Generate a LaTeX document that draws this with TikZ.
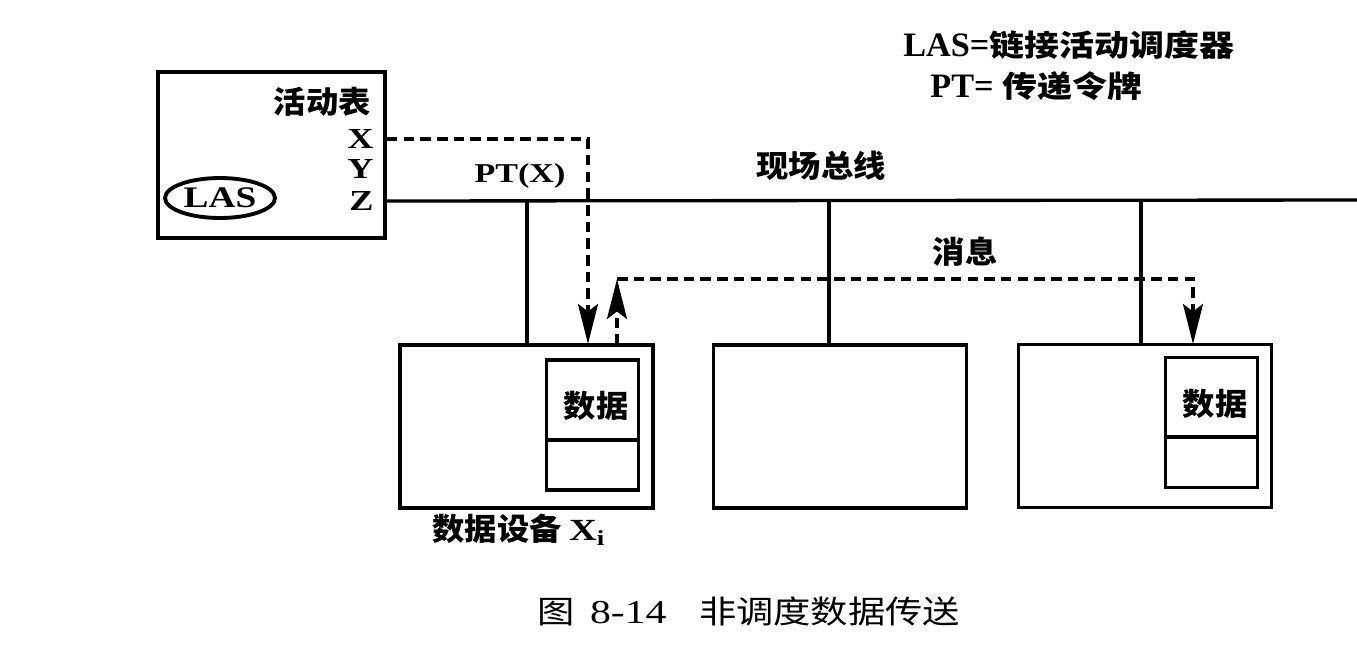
\documentclass[tikz,border=0pt]{standalone}
\usepackage{fontspec}
\setmainfont{Liberation Serif}
\newfontfamily\lat{Liberation Serif}[FakeStretch=1.25]
\newfontfamily\cjk{Noto Sans CJK SC}[FakeStretch=1.05]
\newfontfamily\cjkwide{Noto Sans CJK SC}[FakeStretch=1.17]
\newfontfamily\cjkcap{Noto Sans CJK SC}[FakeStretch=1.18]
\usetikzlibrary{arrows.meta,calc,positioning,shapes.geometric}

\begin{document}
\begin{tikzpicture}[x=0.02cm,y=-0.02cm,>={Stealth[length=8mm,width=4mm,inset=1.5mm]},
    zh/.style={font=\fontsize{17.5}{20}\selectfont\cjk\bfseries,inner sep=0pt},
    en/.style={font=\fontsize{16.5}{18}\selectfont\lat\bfseries,inner sep=0pt},
    unit/.style={draw,line width=2.2pt,minimum width=5.06cm,minimum height=3.26cm,inner sep=0pt},
    buffer/.style={draw,line width=2.2pt,minimum width=1.84cm,minimum height=2.6cm,inner sep=0pt},
    token/.style={line width=1.9pt,dash pattern=on 6pt off 3.5pt},
    wire/.style={line width=1.9pt}]
    \useasboundingbox (0,0) rectangle (1357,653);
    % scheduler with its live list
    \node[draw,line width=2.2pt,minimum width=4.54cm,minimum height=3.32cm,inner sep=0pt] (lasbox) at (271.5,155) {};
    \node[zh,anchor=east] (livelist) at (371,102) {活动表};
    \node[en,anchor=east] (xrow) at (374,139) {X};
    \node[en,anchor=east] (yrow) at (374,169) {Y};
    \node[en,anchor=east] (zrow) at (374,201) {Z};
    \node[draw,ellipse,line width=2.2pt,minimum width=2.2cm,minimum height=0.8cm,inner sep=0pt,
      font=\fontsize{17}{20}\selectfont\lat\bfseries] (las) at (220,198) {LAS};
    % legend
    \node[anchor=west,inner sep=0pt,font=\fontsize{19.5}{22}\selectfont\bfseries] (legendlas) at (903,45) {LAS={\fontsize{17}{20}\selectfont\cjkwide 链接活动调度器}};
    \node[anchor=west,inner sep=0pt,font=\fontsize{19.5}{22}\selectfont\bfseries] (legendpt) at (930,86) {PT= {\fontsize{17}{20}\selectfont\cjkwide 传递令牌}};
    % devices on the fieldbus
    \node[unit] (dev1) at (526.5,426.5) {};
    \node[unit] (dev2) at (840,426.5) {};
    \node[unit] (dev3) at (1145,426) {};
    \node[buffer] (buf1) at (592.5,425) {};
    \node[buffer] (buf3) at (1211.5,422.5) {};
    \draw[line width=2.2pt] (buf1.west |- 0,440) -- (buf1.east |- 0,440);
    \draw[line width=2.2pt] (buf3.west |- 0,437) -- (buf3.east |- 0,437);
    \node[zh] (data1) at (596,406) {数据};
    \node[zh] (data3) at (1215,404) {数据};
    \node[zh] (devname) at (519,530) {数据设备 {\lat X\textsubscript{i}}};
    % bus and drops
    \coordinate (busend) at (1357,200);
    \draw[wire] (lasbox.east |- zrow) -- (busend);
    \foreach \d/\x in {dev1/527,dev2/829,dev3/1141}{\draw[wire] (\x,200) -- (\x,0 |- \d.north);}
    \node[font=\fontsize{15.5}{18}\selectfont\lat\bfseries,inner sep=0pt] (ptx) at (520,176) {PT(X)};
    \node[zh] (fieldbus) at (821,166) {现场总线};
    % token pass and message
    \coordinate (ptin) at (588,344);
    \draw[token,->] (lasbox.east |- xrow) -| (ptin);
    \coordinate (msgout) at (617,345);
    \coordinate (msgup) at (617,279);
    \coordinate (msgin) at (1193,344);
    \draw[token,->] (msgout) -- (msgup);
    \draw[token,->] (msgup) -| (msgin);
    \node[zh] (message) at (965,252) {消息};
    % caption
    \node[inner sep=0pt,font=\fontsize{18}{22}\selectfont] (caption) at (749,611)
      {{\cjkcap 图}\hspace{0.3cm}{\lat\fontsize{19}{22}\selectfont 8-14}\hspace{0.65cm}{\cjkcap 非调度数据传送}};
\end{tikzpicture}
\end{document}
